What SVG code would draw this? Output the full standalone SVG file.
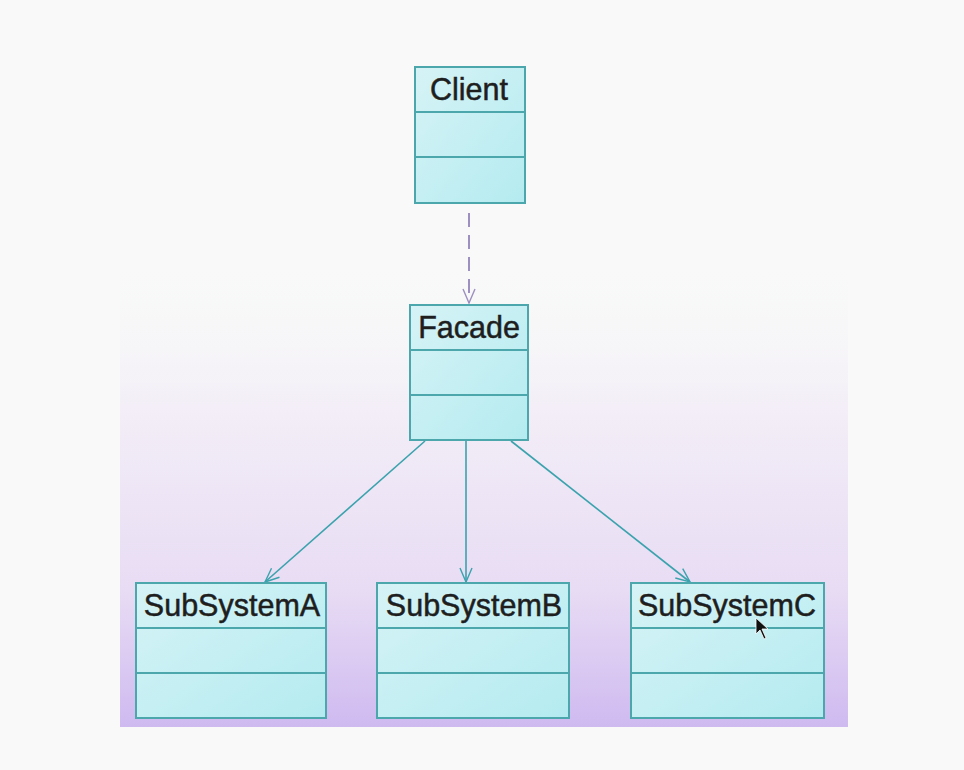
<svg xmlns="http://www.w3.org/2000/svg" width="964" height="770" viewBox="0 0 964 770">
<defs>
<linearGradient id="bg" x1="0" y1="0" x2="0" y2="1">
<stop offset="0" stop-color="#f7f7f9" stop-opacity="0"/>
<stop offset="0.3" stop-color="#f3eef7"/>
<stop offset="0.7" stop-color="#e8dcf4"/>
<stop offset="1" stop-color="#cfbaf0"/>
</linearGradient>
<linearGradient id="box" x1="0" y1="0" x2="1" y2="1">
<stop offset="0" stop-color="#d6f3f6"/>
<stop offset="1" stop-color="#b4ebf0"/>
</linearGradient>
<marker id="openT" viewBox="0 0 16 16" refX="15" refY="8" markerWidth="16" markerHeight="16" markerUnits="userSpaceOnUse" orient="auto">
<path d="M1,2 L15,8 L1,14" fill="none" stroke="#3aa3ad" stroke-width="1.4"/>
</marker>
<marker id="openD" viewBox="0 0 16 16" refX="15" refY="8" markerWidth="16" markerHeight="16" markerUnits="userSpaceOnUse" orient="auto">
<path d="M1,2 L15,8 L1,14" fill="none" stroke="#9d90c0" stroke-width="1.4"/>
</marker>
</defs>
<style>
.cls rect{fill:url(#box);stroke:#4ba7ab;stroke-width:2}
.cls line{stroke:#4ba7ab;stroke-width:2}
.cls text{font-family:"Liberation Sans",Arial,sans-serif;font-size:30.5px;fill:#1e1e1e;stroke:#1e1e1e;stroke-width:0.5;text-anchor:middle}
.assoc{stroke:#3aa3ad;stroke-width:1.6;fill:none;marker-end:url(#openT)}
.dep{stroke:#9d90c0;stroke-width:2;fill:none;stroke-dasharray:14,8;marker-end:url(#openD)}
</style>
<rect width="964" height="770" fill="#f8f9f8"/>
<rect x="120" y="270" width="728" height="457" fill="url(#bg)"/>
<g id="connectors">
<line class="dep" x1="469" y1="213" x2="469" y2="303"/>
<line class="assoc" x1="425" y1="441" x2="265" y2="582"/>
<line class="assoc" x1="466" y1="441" x2="466" y2="582"/>
<line class="assoc" x1="511" y1="441" x2="690" y2="582"/>
</g>
<g id="client" class="cls">
<rect x="415" y="67" width="110" height="136"/>
<line x1="415" y1="112" x2="525" y2="112"/>
<line x1="415" y1="157" x2="525" y2="157"/>
<text x="469" y="100">Client</text>
</g>
<g id="facade" class="cls">
<rect x="410" y="305" width="118" height="135"/>
<line x1="410" y1="350" x2="528" y2="350"/>
<line x1="410" y1="395" x2="528" y2="395"/>
<text x="469" y="338">Facade</text>
</g>
<g id="subsystemA" class="cls">
<rect x="136" y="583" width="190" height="135"/>
<line x1="136" y1="628" x2="326" y2="628"/>
<line x1="136" y1="673" x2="326" y2="673"/>
<text x="232" y="616">SubSystemA</text>
</g>
<g id="subsystemB" class="cls">
<rect x="377" y="583" width="192" height="135"/>
<line x1="377" y1="628" x2="569" y2="628"/>
<line x1="377" y1="673" x2="569" y2="673"/>
<text x="474" y="616">SubSystemB</text>
</g>
<g id="subsystemC" class="cls">
<rect x="631" y="583" width="193" height="135"/>
<line x1="631" y1="628" x2="824" y2="628"/>
<line x1="631" y1="673" x2="824" y2="673"/>
<text x="727" y="616">SubSystemC</text>
</g>
<path d="M756,618 L756,634 L760,630 L764,639 L766,638 L762,629 L768,629 Z" fill="#111" stroke="#fff" stroke-width="0.8"/>
</svg>
